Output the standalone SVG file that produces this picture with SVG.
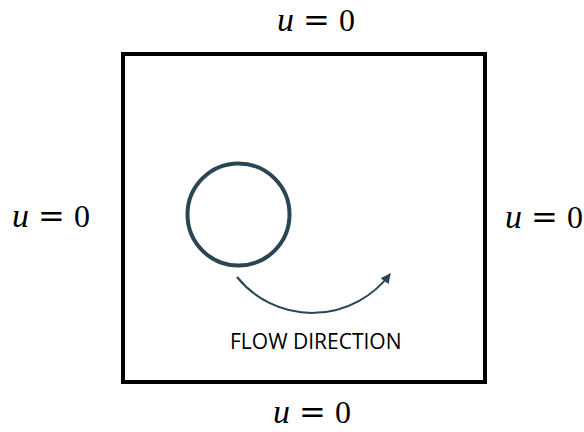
<svg xmlns="http://www.w3.org/2000/svg" width="584" height="432" viewBox="0 0 584 432">
<defs>
<style>
.lbl{font-family:"Liberation Serif","Times New Roman",serif;font-size:32px;fill:#000}
.u{font-style:italic;font-size:34px}
.eq{font-family:"DejaVu Serif",serif;font-weight:normal}
.flow{font-family:"Open Sans","Noto Sans",sans-serif;font-size:21px;fill:#000}
</style>
<marker id="ah" viewBox="0 0 10 10" refX="9" refY="5" markerWidth="5" markerHeight="5" orient="auto">
<path d="M0,0 L10,5 L0,10 z" fill="#2a4653"/>
</marker>
</defs>
<rect width="584" height="432" fill="#fff"/>
<g id="domain"><rect x="123" y="54" width="362" height="328" fill="none" stroke="#000" stroke-width="4"/></g>
<g id="cylinder"><circle cx="238.5" cy="214.5" r="51" fill="none" stroke="#2a4653" stroke-width="4"/></g>
<g id="connectors"><path d="M237,277 A97,97 0 0 0 390,274" fill="none" stroke="#2a4653" stroke-width="2" marker-end="url(#ah)"/></g>
<g id="labels">
<text class="lbl" y="31"><tspan class="u" x="277">u</tspan><tspan class="eq" x="303">=</tspan><tspan x="339">0</tspan></text>
<text class="lbl" y="227"><tspan class="u" x="12">u</tspan><tspan class="eq" x="38">=</tspan><tspan x="74">0</tspan></text>
<text class="lbl" y="228"><tspan class="u" x="505">u</tspan><tspan class="eq" x="531">=</tspan><tspan x="567">0</tspan></text>
<text class="lbl" y="423"><tspan class="u" x="273">u</tspan><tspan class="eq" x="299">=</tspan><tspan x="335">0</tspan></text>
<text class="flow" x="230" y="349">FLOW DIRECTION</text>
</g>
</svg>
